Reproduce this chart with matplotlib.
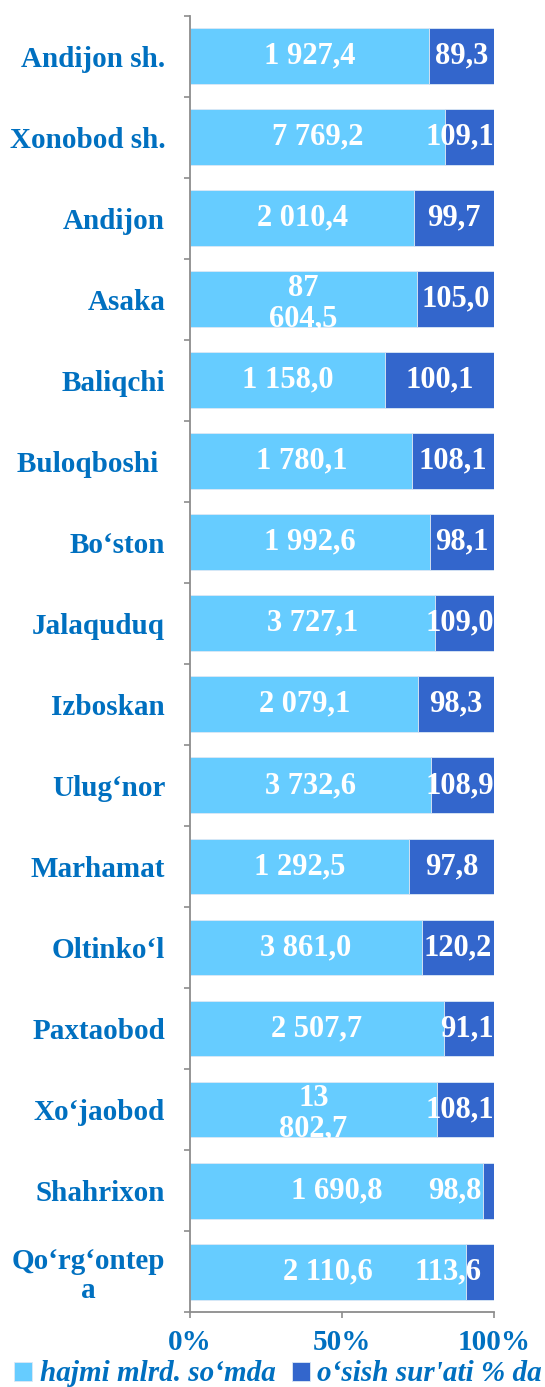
import matplotlib.pyplot as plt
import numpy as np

plt.rcParams['font.family'] = ['Liberation Serif', 'DejaVu Serif']

# categories (top to bottom)
regions = ["Andijon sh.", "Xonobod sh.", "Andijon", "Asaka", "Baliqchi", "Buloqboshi ",
           "Bo\u2018ston", "Jalaquduq", "Izboskan", "Ulug\u2018nor", "Marhamat",
           "Oltinko\u2018l", "Paxtaobod", "Xo\u2018jaobod", "Shahrixon", "Qo\u2018rg\u2018ontep\na"]

# value labels as printed on the bars
hajmi_labels = ["1 927,4", "7 769,2", "2 010,4", "87\n604,5", "1 158,0", "1 780,1",
                "1 992,6", "3 727,1", "2 079,1", "3 732,6", "1 292,5", "3 861,0",
                "2 507,7", "13\n802,7", "1 690,8", "2 110,6"]
osish_labels = ["89,3", "109,1", "99,7", "105,0", "100,1", "108,1", "98,1", "109,0",
                "98,3", "108,9", "97,8", "120,2", "91,1", "108,1", "98,8", "113,6"]

# bar shares (100% stacked)
hajmi_share = [0.787, 0.840, 0.738, 0.746, 0.643, 0.732, 0.790, 0.806,
               0.751, 0.792, 0.722, 0.762, 0.835, 0.812, 0.964, 0.908]
osish_share = [0.213, 0.160, 0.262, 0.254, 0.357, 0.268, 0.210, 0.194,
               0.249, 0.208, 0.278, 0.238, 0.165, 0.188, 0.036, 0.092]

legend_labels = ["hajmi mlrd. so\u2018mda", "o\u2018sish sur'ati % da"]

LIGHT = '#66CCFF'
DARK = '#3366CC'
BLUE_TXT = '#0070C0'
GRAY = '#8C8C8C'

fig = plt.figure(figsize=(5.45, 13.87), dpi=100)
ax = fig.add_axes([0.349, 0.054, 0.557, 0.9347])

y = np.arange(len(regions))
bars1 = ax.barh(y, hajmi_share, height=0.69, color=LIGHT, edgecolor='#DCE8F5',
                linewidth=0.6, label=legend_labels[0])
bars2 = ax.barh(y, osish_share, left=hajmi_share, height=0.69, color=DARK,
                edgecolor='#DCE8F5', linewidth=0.6, label=legend_labels[1])

ax.set_xlim(0, 1)
ax.set_ylim(len(regions) - 0.5, -0.5)

lbl = dict(color='white', fontweight='bold', fontsize=22, va='center')
dark_texts = []
for i in range(len(regions)):
    h = hajmi_share[i]
    d = osish_share[i]
    # wrapped labels sit a little lower, like in the original
    dy = 0.055 if '\n' in hajmi_labels[i] else 0
    ax.text(h / 2, y[i] + dy, hajmi_labels[i], ha='center', linespacing=1.05, **lbl)
    if d < 0.1:
        # narrow segment: label sits inside the light part, near the end
        ax.text(0.958, y[i], osish_labels[i], ha='right', **lbl)
    else:
        dark_texts.append(ax.text(h + d / 2, y[i], osish_labels[i], ha='center', **lbl))

# keep the dark labels from running past the end of the bar
fig.canvas.draw()
renderer = fig.canvas.get_renderer()
ax_right = ax.get_window_extent(renderer).x1
for t in dark_texts:
    if t.get_window_extent(renderer).x1 > ax_right + 1:
        t.set_x(1.0)
        t.set_ha('right')

ax.set_yticks(y)
ax.set_yticklabels(regions, fontsize=21, fontweight='bold', color=BLUE_TXT,
                   multialignment='center', linespacing=1.1)
ax.tick_params(axis='y', which='major', length=0, pad=18)
ax.set_yticks(np.arange(-0.5, len(regions)), minor=True)
ax.tick_params(axis='y', which='minor', length=4, width=1.2, color=GRAY)

ax.set_xticks([0, 0.5, 1])
ax.set_xticklabels(['0%', '50%', '100%'], fontsize=21, fontweight='bold', color=BLUE_TXT)
ax.tick_params(axis='x', length=4, width=1.2, color=GRAY, pad=8)

for s in ['top', 'right']:
    ax.spines[s].set_visible(False)
for s in ['left', 'bottom']:
    ax.spines[s].set_color(GRAY)
    ax.spines[s].set_linewidth(1.3)

fig.legend(handles=[bars1, bars2], loc='center', bbox_to_anchor=(0.51, 0.0095), ncol=2,
           frameon=False, prop=dict(weight='bold', style='italic', size=21),
           labelcolor=BLUE_TXT, handlelength=0.62, handleheight=0.62,
           handletextpad=0.25, columnspacing=0.55, borderaxespad=0, borderpad=0)

fig.savefig('out.png', dpi=100)
